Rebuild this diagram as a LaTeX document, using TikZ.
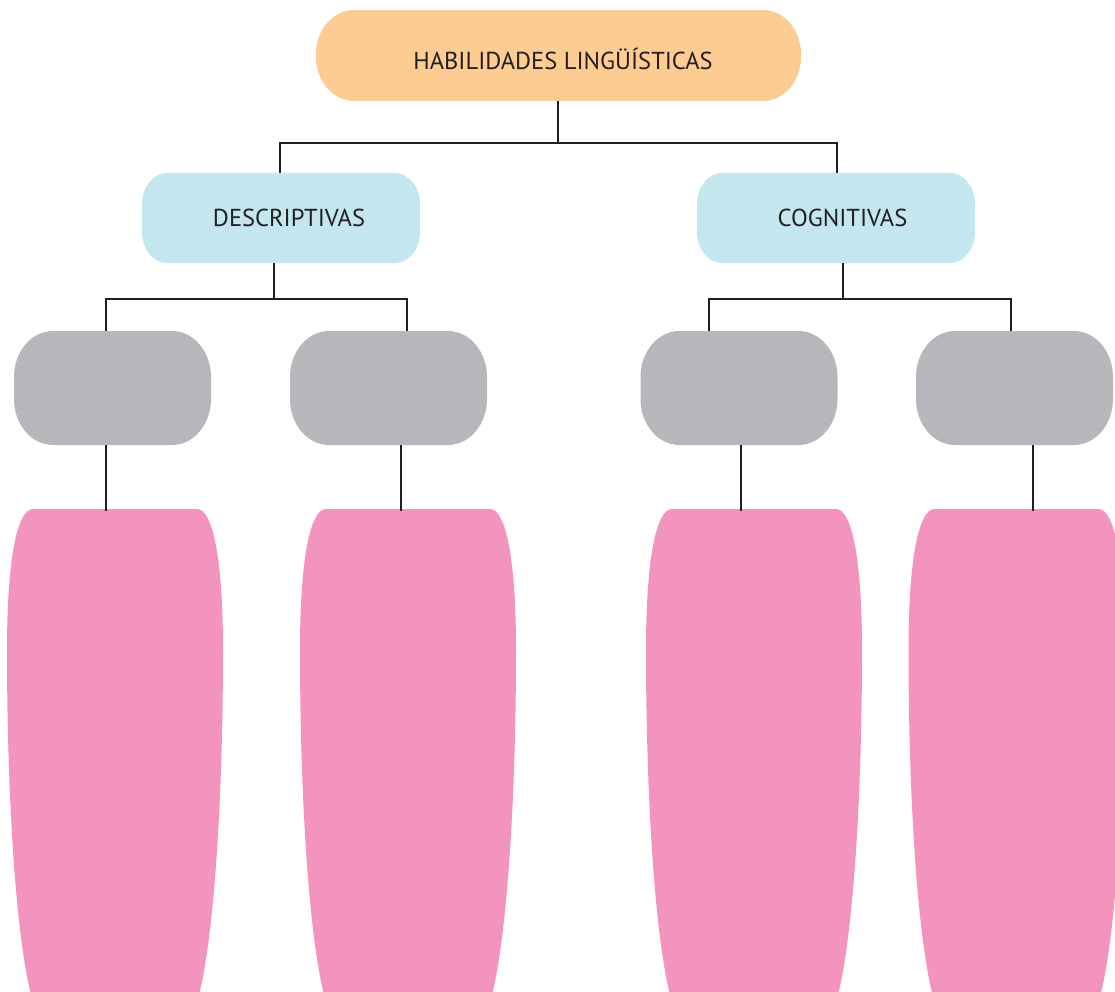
\documentclass[tikz,border=0pt]{standalone}
\usepackage{fontspec}
\setmainfont{PT Sans}
\usetikzlibrary{calc}
\definecolor{orangec}{HTML}{FDCC92}
\definecolor{bluec}{HTML}{C3E6EF}
\definecolor{grayc}{HTML}{B6B7BB}
\definecolor{pinkc}{HTML}{F394BF}
\definecolor{linec}{HTML}{231F20}
% filled box with elliptical corners around a named node
\newcommand\ellfill[4]{%
  \fill[#4] ($(#1.north west)+(#2,0pt)$) -- ($(#1.north east)+(-#2,0pt)$)
    arc[start angle=90, end angle=0, x radius=#2, y radius=#3]
    -- ($(#1.south east)+(0pt,#3)$)
    arc[start angle=0, end angle=-90, x radius=#2, y radius=#3]
    -- ($(#1.south west)+(#2,0pt)$)
    arc[start angle=-90, end angle=-180, x radius=#2, y radius=#3]
    -- ($(#1.north west)+(0pt,-#3)$)
    arc[start angle=180, end angle=90, x radius=#2, y radius=#3] -- cycle;}
\begin{document}
\begin{tikzpicture}[x=1pt,y=-1pt,
  boxbase/.style={inner sep=0pt, outer sep=0pt, draw=none},
  orangebox/.style={boxbase, minimum width=485pt, minimum height=91pt},
  bluebox/.style={boxbase, minimum width=278pt, minimum height=90pt},
  graybox/.style={boxbase, minimum width=197pt, minimum height=114pt},
  pinkshape/.style={fill=pinkc},
  conn/.style={draw=linec, line width=2pt},
  lbl/.style={font=\fontsize{24.5}{24.5}\selectfont, text=linec, inner sep=0pt, anchor=base}]
\useasboundingbox (0,0) rectangle (1115,992);
\clip (0,0) rectangle (1115,992);

% pink shapes
\foreach \c in {115,408,754,1016.5}{
  \fill[pinkshape] ({\c-82},509) -- ({\c+82},509)
    .. controls ({\c+98},509) and ({\c+108},560) .. ({\c+108},650)
    .. controls ({\c+108},790) and ({\c+100},930) .. ({\c+84},995)
    -- ({\c-84},995)
    .. controls ({\c-100},930) and ({\c-108},790) .. ({\c-108},650)
    .. controls ({\c-108},560) and ({\c-98},509) .. ({\c-82},509) -- cycle;
}
\coordinate (p1top) at (106,511);
\coordinate (p2top) at (401,511);
\coordinate (p3top) at (741,511);
\coordinate (p4top) at (1033,511);

% boxes
\node[orangebox] (top) at (558.5,55.5) {};
\node[bluebox] (desc) at (281,218) {};
\node[bluebox] (cog) at (836,218) {};
\node[graybox] (g1) at (112.5,388) {};
\node[graybox] (g2) at (388.5,388) {};
\node[graybox] (g3) at (739,388) {};
\node[graybox] (g4) at (1014.5,388) {};
\ellfill{top}{38pt}{44pt}{orangec}
\ellfill{desc}{25pt}{31pt}{bluec}
\ellfill{cog}{25pt}{31pt}{bluec}
\ellfill{g1}{39pt}{46pt}{grayc}
\ellfill{g2}{39pt}{46pt}{grayc}
\ellfill{g3}{39pt}{46pt}{grayc}
\ellfill{g4}{39pt}{46pt}{grayc}
\node[lbl] (toptxt) at (563,70) {HABILIDADES LINGÜÍSTICAS};
\node[lbl] (desctxt) at (289,227) {DESCRIPTIVAS};
\node[lbl] (cogtxt) at (842.5,227) {COGNITIVAS};

% connectors
\coordinate (j1) at (558,143);
\coordinate (j2) at (274,299);
\coordinate (j3) at (843,299);
\draw[conn] ([xshift=-0.5pt]top.south) -- (j1);
\draw[conn] (j1) -| ([xshift=-1pt]desc.north);
\draw[conn] (j1) -| ([xshift=1pt]cog.north);
\draw[conn] (desc.south -| j2) -- (j2);
\draw[conn] (j2) -| ([xshift=-6.5pt]g1.north);
\draw[conn] (j2) -| ([xshift=18.5pt]g2.north);
\draw[conn] (cog.south -| j3) -- (j3);
\draw[conn] (j3) -| ([xshift=-30pt]g3.north);
\draw[conn] (j3) -| ([xshift=-3.5pt]g4.north);
\draw[conn] (g1.south -| p1top) -- (p1top);
\draw[conn] (g2.south -| p2top) -- (p2top);
\draw[conn] (g3.south -| p3top) -- (p3top);
\draw[conn] (g4.south -| p4top) -- (p4top);
\end{tikzpicture}
\end{document}
